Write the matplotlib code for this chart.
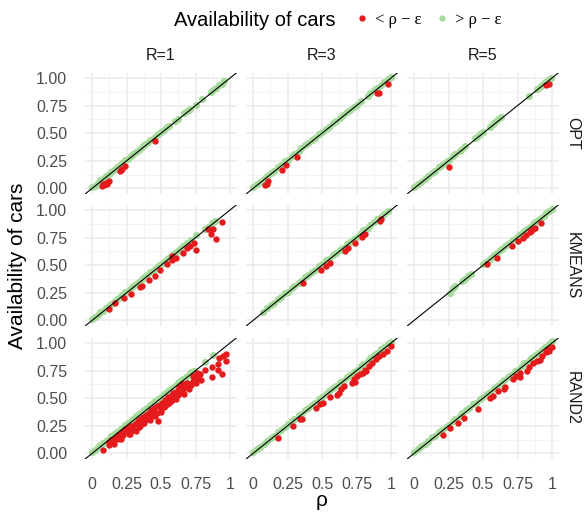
import matplotlib
matplotlib.use("Agg")
import matplotlib.pyplot as plt
from matplotlib.lines import Line2D

plt.rcParams['font.family'] = ['Liberation Sans', 'DejaVu Sans']

# facet labels
methods = ["OPT", "KMEANS", "RAND2"]
radii = ["R=1", "R=3", "R=5"]
x_ticks = [0, 0.25, 0.5, 0.75, 1]
x_tick_labels = ["0", "0.25", "0.5", "0.75", "1"]
y_ticks = [0, 0.25, 0.5, 0.75, 1]
y_tick_labels = ["0.00", "0.25", "0.50", "0.75", "1.00"]

# ---- OPT ----
opt_r1_gx = [0.00, 0.02, 0.04, 0.06, 0.08, 0.10, 0.12, 0.14, 0.16, 0.18, 0.20, 0.22, 0.24, 0.26, 0.28, 0.30,
             0.32, 0.34, 0.36, 0.38, 0.40, 0.42, 0.44, 0.46, 0.48, 0.50, 0.52, 0.54, 0.56, 0.60, 0.62, 0.67,
             0.69, 0.71, 0.75, 0.80, 0.86, 0.88, 0.90, 0.92, 0.94, 0.96]
opt_r1_gy = [0.01, 0.025, 0.05, 0.075, 0.09, 0.11, 0.135, 0.15, 0.17, 0.195, 0.21, 0.23, 0.255, 0.27, 0.29, 0.315,
             0.33, 0.35, 0.375, 0.39, 0.41, 0.435, 0.45, 0.47, 0.495, 0.51, 0.53, 0.555, 0.57, 0.615, 0.63, 0.68,
             0.705, 0.72, 0.76, 0.81, 0.875, 0.89, 0.91, 0.935, 0.95, 0.97]
opt_r1_rx = [0.07, 0.08, 0.09, 0.10, 0.11, 0.12, 0.20, 0.21, 0.22, 0.24, 0.46]
opt_r1_ry = [0.02, 0.04, 0.03, 0.05, 0.04, 0.07, 0.16, 0.17, 0.18, 0.20, 0.43]

opt_r3_gx = [0.00, 0.03, 0.05, 0.08, 0.10, 0.13, 0.15, 0.18, 0.20, 0.23, 0.25, 0.28, 0.30, 0.33, 0.35, 0.38,
             0.40, 0.43, 0.45, 0.48, 0.50, 0.53, 0.55, 0.58, 0.60, 0.63, 0.65, 0.68, 0.70, 0.73, 0.75, 0.78,
             0.83, 0.85, 0.88, 0.90, 0.93, 0.95, 0.98, 1.00]
opt_r3_gy = [0.01, 0.04, 0.06, 0.09, 0.115, 0.14, 0.16, 0.19, 0.21, 0.245, 0.26, 0.29, 0.31, 0.34, 0.365, 0.39,
             0.41, 0.44, 0.46, 0.49, 0.515, 0.54, 0.56, 0.59, 0.61, 0.64, 0.665, 0.69, 0.71, 0.74, 0.76, 0.79,
             0.84, 0.865, 0.89, 0.91, 0.94, 0.96, 0.99, 1.01]
opt_r3_rx = [0.09, 0.10, 0.11, 0.21, 0.24, 0.32, 0.90, 0.91, 0.98]
opt_r3_ry = [0.03, 0.04, 0.07, 0.17, 0.21, 0.285, 0.86, 0.865, 0.945]

opt_r5_gx = [0.00, 0.03, 0.05, 0.08, 0.10, 0.13, 0.15, 0.18, 0.20, 0.23, 0.25, 0.28, 0.30, 0.33, 0.35, 0.37,
             0.44, 0.46, 0.48, 0.50, 0.55, 0.57, 0.59, 0.61, 0.63, 0.83, 0.89, 0.91, 0.93, 0.95, 0.97, 0.99]
opt_r5_gy = [0.01, 0.04, 0.06, 0.09, 0.11, 0.14, 0.16, 0.19, 0.215, 0.24, 0.26, 0.29, 0.31, 0.34, 0.36, 0.385,
             0.455, 0.47, 0.49, 0.515, 0.56, 0.58, 0.60, 0.625, 0.645, 0.84, 0.90, 0.92, 0.94, 0.96, 0.985, 1.00]
opt_r5_rx = [0.25, 0.96, 0.98]
opt_r5_ry = [0.19, 0.94, 0.95]

# ---- KMEANS ----
kmeans_r1_gx = [0.00, 0.02, 0.04, 0.06, 0.08, 0.10, 0.12, 0.14, 0.16, 0.18, 0.20, 0.22, 0.24, 0.26, 0.28, 0.30,
                0.32, 0.34, 0.36, 0.38, 0.40, 0.42, 0.44, 0.46, 0.48, 0.50, 0.52, 0.54, 0.56, 0.58, 0.60, 0.62,
                0.64, 0.66, 0.69, 0.72, 0.75, 0.82, 0.84, 0.87, 0.89]
kmeans_r1_gy = [0.01, 0.03, 0.05, 0.075, 0.09, 0.11, 0.135, 0.15, 0.17, 0.195, 0.21, 0.23, 0.255, 0.27, 0.29, 0.315,
                0.33, 0.35, 0.375, 0.39, 0.41, 0.435, 0.45, 0.47, 0.495, 0.51, 0.53, 0.555, 0.57, 0.59, 0.615, 0.63,
                0.65, 0.675, 0.70, 0.73, 0.77, 0.83, 0.85, 0.88, 0.90]
kmeans_r1_rx = [0.12, 0.17, 0.23, 0.28, 0.35, 0.36, 0.41, 0.46, 0.49, 0.54, 0.58, 0.58, 0.61, 0.66, 0.69, 0.71,
                0.74, 0.75, 0.84, 0.86, 0.88, 0.90, 0.94]
kmeans_r1_ry = [0.10, 0.16, 0.20, 0.24, 0.30, 0.31, 0.37, 0.40, 0.455, 0.51, 0.545, 0.585, 0.57, 0.615, 0.66, 0.675,
                0.70, 0.64, 0.83, 0.78, 0.83, 0.74, 0.89]

kmeans_r3_gx = [0.07, 0.10, 0.13, 0.15, 0.18, 0.20, 0.23, 0.25, 0.28, 0.30, 0.33, 0.35, 0.38, 0.40, 0.43, 0.45,
                0.48, 0.50, 0.53, 0.55, 0.58, 0.60, 0.63, 0.65, 0.68, 0.70, 0.73, 0.75, 0.78, 0.80, 0.83, 0.85,
                0.88, 0.90, 0.93, 0.95, 0.98]
kmeans_r3_gy = [0.075, 0.11, 0.14, 0.16, 0.19, 0.21, 0.245, 0.26, 0.29, 0.315, 0.34, 0.36, 0.39, 0.415, 0.44, 0.46,
                0.49, 0.51, 0.545, 0.56, 0.59, 0.615, 0.64, 0.66, 0.69, 0.715, 0.74, 0.76, 0.79, 0.815, 0.84, 0.86,
                0.89, 0.915, 0.94, 0.96, 0.99]
kmeans_r3_rx = [0.365, 0.49, 0.53, 0.56, 0.67, 0.69, 0.74, 0.79, 0.80, 0.81, 0.92, 0.93]
kmeans_r3_ry = [0.34, 0.455, 0.49, 0.52, 0.63, 0.66, 0.705, 0.757, 0.77, 0.78, 0.90, 0.92]

kmeans_r5_gx = [0.26, 0.28, 0.30, 0.35, 0.37, 0.39, 0.41, 0.50, 0.52, 0.54, 0.56, 0.58, 0.60, 0.62, 0.64, 0.66,
                0.68, 0.70, 0.72, 0.74, 0.76, 0.78, 0.80, 0.82, 0.84, 0.86, 0.88, 0.90, 0.92, 0.94, 0.96, 0.98, 1.00]
kmeans_r5_gy = [0.25, 0.29, 0.31, 0.36, 0.38, 0.40, 0.42, 0.51, 0.53, 0.55, 0.57, 0.59, 0.61, 0.635, 0.65, 0.67,
                0.69, 0.71, 0.73, 0.75, 0.77, 0.79, 0.81, 0.83, 0.85, 0.875, 0.89, 0.91, 0.93, 0.95, 0.97, 0.99, 1.01]
kmeans_r5_rx = [0.53, 0.60, 0.71, 0.75, 0.79, 0.81, 0.84, 0.85, 0.86, 0.88, 0.92]
kmeans_r5_ry = [0.515, 0.565, 0.675, 0.72, 0.75, 0.77, 0.80, 0.81, 0.83, 0.84, 0.885]

# ---- RAND2 ----
rand2_r1_gx = [0.00, 0.02, 0.04, 0.06, 0.08, 0.10, 0.12, 0.14, 0.16, 0.18, 0.20, 0.22, 0.24, 0.26, 0.28, 0.30,
               0.32, 0.34, 0.36, 0.38, 0.40, 0.42, 0.44, 0.46, 0.48, 0.50, 0.52, 0.54, 0.56, 0.58, 0.60, 0.62,
               0.64, 0.66, 0.68, 0.70, 0.72, 0.74, 0.82, 0.88]
rand2_r1_gy = [0.01, 0.035, 0.055, 0.075, 0.095, 0.115, 0.135, 0.155, 0.175, 0.195, 0.215, 0.235, 0.255, 0.275, 0.295, 0.315,
               0.335, 0.355, 0.375, 0.395, 0.415, 0.435, 0.455, 0.475, 0.495, 0.515, 0.535, 0.555, 0.575, 0.595, 0.615, 0.635,
               0.655, 0.675, 0.695, 0.715, 0.735, 0.75, 0.83, 0.89]
rand2_r1_rx = [0.08, 0.12, 0.155, 0.19, 0.20, 0.225, 0.25, 0.275, 0.30, 0.32, 0.35, 0.37, 0.40, 0.42, 0.45, 0.48,
               0.47, 0.50, 0.52, 0.54, 0.57, 0.59, 0.61, 0.63, 0.66, 0.67, 0.70, 0.73, 0.75, 0.76, 0.79, 0.78,
               0.82, 0.87, 0.91, 0.94, 0.87, 0.91, 0.92, 0.97, 0.97, 0.95, 0.73, 0.76, 0.77, 0.65, 0.63,
               0.12, 0.14, 0.17, 0.19, 0.22, 0.24, 0.26, 0.28, 0.31, 0.33, 0.35, 0.37, 0.39, 0.41, 0.43, 0.45,
               0.47, 0.49, 0.51, 0.53, 0.55, 0.57, 0.59, 0.61, 0.63, 0.65, 0.67, 0.69,
               0.16, 0.21, 0.27, 0.29, 0.34, 0.38, 0.42, 0.44, 0.46, 0.50, 0.53, 0.56, 0.58, 0.60, 0.62, 0.64,
               0.66, 0.68, 0.70, 0.72]
rand2_r1_ry = [0.03, 0.08, 0.11, 0.127, 0.157, 0.164, 0.20, 0.18, 0.218, 0.20, 0.248, 0.28, 0.31, 0.33, 0.355, 0.29,
               0.37, 0.40, 0.42, 0.445, 0.475, 0.52, 0.49, 0.55, 0.58, 0.535, 0.627, 0.657, 0.64, 0.67, 0.666, 0.718,
               0.757, 0.69, 0.757, 0.718, 0.78, 0.81, 0.86, 0.84, 0.90, 0.885, 0.70, 0.73, 0.69, 0.627, 0.60,
               0.10, 0.12, 0.14, 0.17, 0.19, 0.22, 0.23, 0.25, 0.27, 0.29, 0.31, 0.33, 0.35, 0.37, 0.39, 0.41,
               0.43, 0.44, 0.46, 0.48, 0.51, 0.52, 0.55, 0.56, 0.58, 0.60, 0.63, 0.64,
               0.09, 0.13, 0.18, 0.21, 0.24, 0.28, 0.30, 0.35, 0.34, 0.38, 0.43, 0.46, 0.48, 0.51, 0.53, 0.56,
               0.55, 0.60, 0.58, 0.62]

rand2_r3_gx = [0.00, 0.03, 0.05, 0.08, 0.10, 0.13, 0.15, 0.18, 0.20, 0.23, 0.25, 0.28, 0.30, 0.33, 0.35, 0.38,
               0.40, 0.43, 0.45, 0.48, 0.50, 0.53, 0.55, 0.58, 0.60, 0.63, 0.65, 0.68, 0.70, 0.73, 0.75, 0.78,
               0.80, 0.83, 0.85, 0.88, 0.90, 0.93, 0.95, 0.98, 1.00]
rand2_r3_gy = [0.01, 0.045, 0.06, 0.09, 0.115, 0.14, 0.16, 0.195, 0.21, 0.24, 0.265, 0.29, 0.31, 0.345, 0.36, 0.39,
               0.415, 0.44, 0.46, 0.495, 0.51, 0.54, 0.565, 0.59, 0.61, 0.645, 0.66, 0.69, 0.715, 0.74, 0.76, 0.795,
               0.81, 0.84, 0.865, 0.89, 0.91, 0.945, 0.96, 0.99, 1.01]
rand2_r3_rx = [0.18, 0.29, 0.34, 0.355, 0.46, 0.485, 0.51, 0.56, 0.61, 0.62, 0.64, 0.66, 0.715, 0.73, 0.74, 0.75,
               0.775, 0.80, 0.81, 0.82, 0.84, 0.86, 0.89, 0.91, 0.94, 0.97, 1.00]
rand2_r3_ry = [0.14, 0.25, 0.31, 0.315, 0.415, 0.445, 0.46, 0.51, 0.53, 0.55, 0.58, 0.61, 0.64, 0.67, 0.65, 0.70,
               0.72, 0.73, 0.76, 0.745, 0.79, 0.82, 0.855, 0.885, 0.90, 0.93, 0.975]

rand2_r5_gx = [0.00, 0.03, 0.05, 0.08, 0.10, 0.13, 0.15, 0.18, 0.20, 0.23, 0.25, 0.28, 0.30, 0.33, 0.35, 0.38,
               0.40, 0.43, 0.45, 0.48, 0.50, 0.53, 0.55, 0.58, 0.60, 0.63, 0.65, 0.68, 0.70, 0.73, 0.75, 0.78,
               0.80, 0.83, 0.85, 0.88, 0.90, 0.93, 0.95, 0.98, 1.00]
rand2_r5_gy = [0.015, 0.04, 0.065, 0.09, 0.11, 0.145, 0.16, 0.19, 0.215, 0.24, 0.26, 0.295, 0.31, 0.34, 0.365, 0.39,
               0.41, 0.445, 0.46, 0.49, 0.515, 0.54, 0.56, 0.595, 0.61, 0.64, 0.665, 0.69, 0.71, 0.745, 0.76, 0.79,
               0.815, 0.84, 0.86, 0.895, 0.91, 0.94, 0.965, 0.99, 1.015]
rand2_r5_rx = [0.21, 0.26, 0.32, 0.36, 0.466, 0.55, 0.575, 0.61, 0.65, 0.66, 0.72, 0.74, 0.77, 0.77, 0.82, 0.83,
               0.86, 0.89, 0.91, 0.93, 0.96, 0.97, 0.98, 1.00]
rand2_r5_ry = [0.17, 0.23, 0.28, 0.32, 0.405, 0.50, 0.52, 0.567, 0.585, 0.60, 0.67, 0.70, 0.69, 0.73, 0.745, 0.78,
               0.82, 0.835, 0.85, 0.885, 0.915, 0.945, 0.93, 0.96]

green_x = [[opt_r1_gx, opt_r3_gx, opt_r5_gx], [kmeans_r1_gx, kmeans_r3_gx, kmeans_r5_gx], [rand2_r1_gx, rand2_r3_gx, rand2_r5_gx]]
green_y = [[opt_r1_gy, opt_r3_gy, opt_r5_gy], [kmeans_r1_gy, kmeans_r3_gy, kmeans_r5_gy], [rand2_r1_gy, rand2_r3_gy, rand2_r5_gy]]
red_x = [[opt_r1_rx, opt_r3_rx, opt_r5_rx], [kmeans_r1_rx, kmeans_r3_rx, kmeans_r5_rx], [rand2_r1_rx, rand2_r3_rx, rand2_r5_rx]]
red_y = [[opt_r1_ry, opt_r3_ry, opt_r5_ry], [kmeans_r1_ry, kmeans_r3_ry, kmeans_r5_ry], [rand2_r1_ry, rand2_r3_ry, rand2_r5_ry]]

RED = "#e41a1c"
GREEN = "#a6db9c"
W, H = 586, 512

fig = plt.figure(figsize=(W / 100, H / 100), dpi=100)

col_left = [85.1, 246.1, 407.1]
row_top = [72.5, 204.5, 337.5]
pw, ph = 151.8, 121.5

for i, m in enumerate(methods):
    for j, r in enumerate(radii):
        ax = fig.add_axes([col_left[j] / W, 1 - (row_top[i] + ph) / H, pw / W, ph / H])
        ax.set_xlim(-0.05, 1.05)
        ax.set_ylim(-0.05, 1.05)
        for s in ax.spines.values():
            s.set_visible(False)
        ax.set_xticks(x_ticks)
        ax.set_yticks(y_ticks)
        ax.set_xticks([0.125, 0.375, 0.625, 0.875], minor=True)
        ax.set_yticks([0.125, 0.375, 0.625, 0.875], minor=True)
        ax.grid(True, which='major', color='#ebebeb', lw=1.1)
        ax.grid(True, which='minor', color='#f3f3f3', lw=0.6)
        ax.set_axisbelow(True)
        ax.tick_params(which='both', length=0, colors='#4d4d4d', labelsize=11.5)
        ax.tick_params(axis='x', pad=13)
        ax.tick_params(axis='y', pad=13)
        if i == 2:
            ax.set_xticklabels(x_tick_labels)
        else:
            ax.set_xticklabels([])
        if j == 0:
            ax.set_yticklabels(y_tick_labels)
        else:
            ax.set_yticklabels([])

        ax.scatter(green_x[i][j], green_y[i][j], s=27, color=GREEN, lw=0, zorder=2)
        ax.scatter(red_x[i][j], red_y[i][j], s=21, color=RED, lw=0, zorder=3)
        ax.axline((0, 0), slope=1, color='black', lw=0.8, zorder=4)

        if i == 0:
            ax.set_title(r, fontsize=11.5, color='#1a1a1a', pad=9)
        if j == 2:
            ax.text(1.09, 0.5, m, transform=ax.transAxes, rotation=-90,
                    ha='center', va='center', fontsize=11.5, color='#1a1a1a')

fig.text(18 / W, 1 - 266 / H, "Availability of cars", rotation=90, ha='center', va='center', fontsize=15)
fig.text(322 / W, 1 - 500 / H, "ρ", ha='center', va='center', fontsize=15)

# legend on top
fig.text(255 / W, 1 - 20 / H, "Availability of cars", ha='center', va='center', fontsize=14.5)
handles = [Line2D([], [], marker='o', ls='', color=RED, markersize=3.5),
           Line2D([], [], marker='o', ls='', color=GREEN, markersize=3.5)]
fig.legend(handles, ["< ρ − ε", "> ρ − ε"], loc='center left', bbox_to_anchor=(340 / W, 1 - 20 / H),
           ncol=2, frameon=False, handlelength=0.8, handletextpad=0.4, columnspacing=0.8,
           prop={'family': 'Liberation Serif', 'size': 12})

fig.savefig("out.png", dpi=100)
